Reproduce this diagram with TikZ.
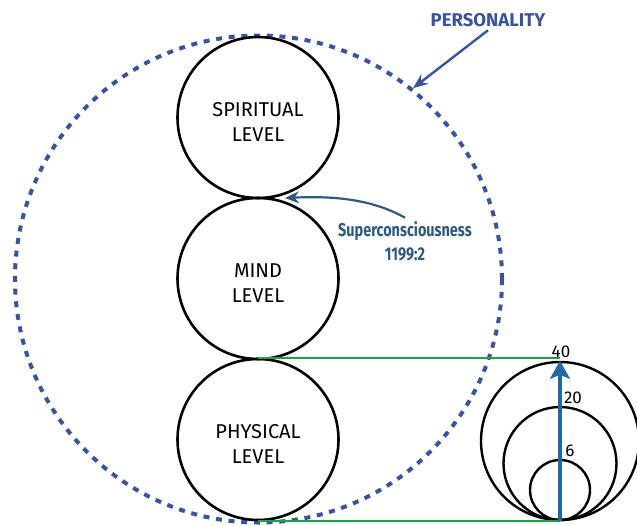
\documentclass[tikz,border=0pt]{standalone}
\usepackage{fontspec}
\setmainfont{Fira Sans}
\newfontfamily\condfont[FakeStretch=0.78]{Fira Sans}
\usetikzlibrary{arrows.meta}
\definecolor{persblue}{RGB}{57,83,164}
\definecolor{superblue}{RGB}{45,90,131}
\definecolor{ageblue}{RGB}{31,106,165}
\definecolor{linegreen}{RGB}{33,160,74}
\newcommand{\lowstrut}{\rule{0pt}{22pt}}

\begin{document}
\begin{tikzpicture}[x=1pt,y=-1pt,
  level/.style={circle,draw,line width=2.6pt,minimum size=161pt,align=center,font=\fontsize{20}{25}\selectfont},
  age/.style={circle,draw,line width=2.4pt,inner sep=0pt},
  num/.style={font=\fontsize{17}{19}\selectfont,inner sep=1pt}]
\useasboundingbox (0,0) rectangle (637,525);
% personality
\node[circle,draw=persblue,line width=4pt,dash pattern=on 6pt off 6.7pt,minimum size=487pt] (pers) at (258.5,279) {};
\node[text=persblue,font=\bfseries\fontsize{18.5}{22}\selectfont] (perslabel) at (488,20) {PERSONALITY};
\draw[persblue,line width=2.4pt,-{Stealth[length=15pt,width=12pt]}] (perslabel.south) -- (pers.51);
% levels
\node[level] (spirit) at (258,117.5) {\lowstrut SPIRITUAL\\LEVEL};
\node[level] (mind) at (258,278.5) {\lowstrut MIND\\LEVEL};
\node[level] (phys) at (258,439.5) {\lowstrut PHYSICAL\\LEVEL};
\coordinate (touch) at (285,198);
\node[text=superblue,font=\condfont\bfseries\fontsize{18.5}{24}\selectfont,align=center] (super) at (405,241) {Superconsciousness\\1199:2};
\draw[superblue,line width=2.2pt,-{Stealth[length=14pt,width=12pt]}] (super.north) .. controls (370,198) and (330,196) .. (touch);
% ages
\node[age,minimum size=158pt] (big) at (560,441) {};
\node[age,minimum size=113pt] (mid) at (560,463.5) {};
\node[age,minimum size=60pt] (small) at (560,490) {};
\draw[linegreen,line width=1.8pt] (phys.north) -- (phys.north -| big.north);
\draw[linegreen,line width=1.8pt] (phys.south) -- (phys.south -| big.south);
\draw[ageblue,line width=4pt,-{Stealth[length=18pt,width=20pt,inset=4pt]}] (small.south) -- (big.north);
\node[num] (n40) at (561,351.5) {40};
\node[num] (n20) at (573,398) {20};
\node[num] (n6) at (570,451) {6};
\end{tikzpicture}
\end{document}
